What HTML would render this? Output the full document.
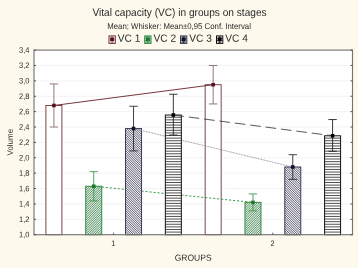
<!DOCTYPE html>
<html><head><meta charset="utf-8"><title>Vital capacity (VC) in groups on stages</title>
<style>
html,body{margin:0;padding:0;background:#fdf9ec;}
body{width:358px;height:268px;overflow:hidden;font-family:"Liberation Sans",sans-serif;}
svg{display:block}
text{font-family:"Liberation Sans",sans-serif;fill:#2a2a2a;text-rendering:geometricPrecision}
</style></head><body>
<svg width="358" height="268" viewBox="0 0 358 268">
<rect x="0" y="0" width="358" height="268" fill="#fdf9ec"/>

<rect x="34.0" y="50.1" width="318.5" height="184.6" fill="#ffffff"/>
<line x1="34.0" y1="219.32" x2="352.5" y2="219.32" stroke="#e9e9ed" stroke-width="0.8" stroke-dasharray="1.3 0.7"/>
<line x1="34.0" y1="203.93" x2="352.5" y2="203.93" stroke="#e9e9ed" stroke-width="0.8" stroke-dasharray="1.3 0.7"/>
<line x1="34.0" y1="188.55" x2="352.5" y2="188.55" stroke="#e9e9ed" stroke-width="0.8" stroke-dasharray="1.3 0.7"/>
<line x1="34.0" y1="173.17" x2="352.5" y2="173.17" stroke="#e9e9ed" stroke-width="0.8" stroke-dasharray="1.3 0.7"/>
<line x1="34.0" y1="157.78" x2="352.5" y2="157.78" stroke="#e9e9ed" stroke-width="0.8" stroke-dasharray="1.3 0.7"/>
<line x1="34.0" y1="142.40" x2="352.5" y2="142.40" stroke="#e9e9ed" stroke-width="0.8" stroke-dasharray="1.3 0.7"/>
<line x1="34.0" y1="127.02" x2="352.5" y2="127.02" stroke="#e9e9ed" stroke-width="0.8" stroke-dasharray="1.3 0.7"/>
<line x1="34.0" y1="111.63" x2="352.5" y2="111.63" stroke="#e9e9ed" stroke-width="0.8" stroke-dasharray="1.3 0.7"/>
<line x1="34.0" y1="96.25" x2="352.5" y2="96.25" stroke="#e9e9ed" stroke-width="0.8" stroke-dasharray="1.3 0.7"/>
<line x1="34.0" y1="80.87" x2="352.5" y2="80.87" stroke="#e9e9ed" stroke-width="0.8" stroke-dasharray="1.3 0.7"/>
<line x1="34.0" y1="65.48" x2="352.5" y2="65.48" stroke="#e9e9ed" stroke-width="0.8" stroke-dasharray="1.3 0.7"/>
<rect x="45.91" y="105.48" width="16.0" height="129.22" fill="#ffffff"/>
<rect x="45.91" y="105.48" width="16.0" height="129.22" fill="none" stroke="#702e36" stroke-width="0.9"/>
<rect x="205.16" y="84.71" width="16.0" height="149.99" fill="#ffffff"/>
<rect x="205.16" y="84.71" width="16.0" height="149.99" fill="none" stroke="#702e36" stroke-width="0.9"/>
<line x1="53.91" y1="105.48" x2="213.16" y2="84.71" stroke="#783840" stroke-width="1"/>
<path d="M53.91 127.02V83.94M49.71 127.02h8.4M49.71 83.94h8.4" stroke="#85686b" stroke-width="0.9" fill="none"/>
<rect x="52.11" y="103.68" width="3.6" height="3.6" fill="#5c0f22"/>
<path d="M213.16 103.94V65.48M208.96 103.94h8.4M208.96 65.48h8.4" stroke="#85686b" stroke-width="0.9" fill="none"/>
<rect x="211.36" y="82.91" width="3.6" height="3.6" fill="#5c0f22"/>
<rect x="85.72" y="186.24" width="16.0" height="48.46" fill="#dff0e0"/>
<clipPath id="c1"><rect x="85.72" y="186.24" width="16.0" height="48.46"/></clipPath>
<path clip-path="url(#c1)" d="M36.80 234.70l48.46 -48.46M39.10 234.70l48.46 -48.46M41.40 234.70l48.46 -48.46M43.70 234.70l48.46 -48.46M46.00 234.70l48.46 -48.46M48.30 234.70l48.46 -48.46M50.60 234.70l48.46 -48.46M52.90 234.70l48.46 -48.46M55.20 234.70l48.46 -48.46M57.50 234.70l48.46 -48.46M59.80 234.70l48.46 -48.46M62.10 234.70l48.46 -48.46M64.40 234.70l48.46 -48.46M66.70 234.70l48.46 -48.46M69.00 234.70l48.46 -48.46M71.30 234.70l48.46 -48.46M73.60 234.70l48.46 -48.46M75.90 234.70l48.46 -48.46M78.20 234.70l48.46 -48.46M80.50 234.70l48.46 -48.46M82.80 234.70l48.46 -48.46M85.10 234.70l48.46 -48.46M87.40 234.70l48.46 -48.46M89.70 234.70l48.46 -48.46M92.00 234.70l48.46 -48.46M94.30 234.70l48.46 -48.46M96.60 234.70l48.46 -48.46M98.90 234.70l48.46 -48.46M101.20 234.70l48.46 -48.46M103.50 234.70l48.46 -48.46M105.80 234.70l48.46 -48.46M108.10 234.70l48.46 -48.46M110.40 234.70l48.46 -48.46M112.70 234.70l48.46 -48.46M115.00 234.70l48.46 -48.46M117.30 234.70l48.46 -48.46M119.60 234.70l48.46 -48.46M121.90 234.70l48.46 -48.46M124.20 234.70l48.46 -48.46M126.50 234.70l48.46 -48.46M128.80 234.70l48.46 -48.46M131.10 234.70l48.46 -48.46M133.40 234.70l48.46 -48.46M135.70 234.70l48.46 -48.46M138.00 234.70l48.46 -48.46M140.30 234.70l48.46 -48.46M142.60 234.70l48.46 -48.46M144.90 234.70l48.46 -48.46M147.20 234.70l48.46 -48.46M149.50 234.70l48.46 -48.46" stroke="#61926f" stroke-width="1.0" fill="none"/>
<rect x="85.72" y="186.24" width="16.0" height="48.46" fill="none" stroke="#2e8b3e" stroke-width="1"/>
<rect x="244.97" y="202.39" width="16.0" height="32.31" fill="#dff0e0"/>
<clipPath id="c2"><rect x="244.97" y="202.39" width="16.0" height="32.31"/></clipPath>
<path clip-path="url(#c2)" d="M211.60 234.70l32.31 -32.31M213.90 234.70l32.31 -32.31M216.20 234.70l32.31 -32.31M218.50 234.70l32.31 -32.31M220.80 234.70l32.31 -32.31M223.10 234.70l32.31 -32.31M225.40 234.70l32.31 -32.31M227.70 234.70l32.31 -32.31M230.00 234.70l32.31 -32.31M232.30 234.70l32.31 -32.31M234.60 234.70l32.31 -32.31M236.90 234.70l32.31 -32.31M239.20 234.70l32.31 -32.31M241.50 234.70l32.31 -32.31M243.80 234.70l32.31 -32.31M246.10 234.70l32.31 -32.31M248.40 234.70l32.31 -32.31M250.70 234.70l32.31 -32.31M253.00 234.70l32.31 -32.31M255.30 234.70l32.31 -32.31M257.60 234.70l32.31 -32.31M259.90 234.70l32.31 -32.31M262.20 234.70l32.31 -32.31M264.50 234.70l32.31 -32.31M266.80 234.70l32.31 -32.31M269.10 234.70l32.31 -32.31M271.40 234.70l32.31 -32.31M273.70 234.70l32.31 -32.31M276.00 234.70l32.31 -32.31M278.30 234.70l32.31 -32.31M280.60 234.70l32.31 -32.31M282.90 234.70l32.31 -32.31M285.20 234.70l32.31 -32.31M287.50 234.70l32.31 -32.31M289.80 234.70l32.31 -32.31M292.10 234.70l32.31 -32.31" stroke="#61926f" stroke-width="1.0" fill="none"/>
<rect x="244.97" y="202.39" width="16.0" height="32.31" fill="none" stroke="#2e8b3e" stroke-width="1"/>
<line x1="93.72" y1="186.24" x2="252.97" y2="202.39" stroke="#3f9a4e" stroke-width="1" stroke-dasharray="2.2 1.8"/>
<path d="M93.72 200.86V171.63M89.52 200.86h8.4M89.52 171.63h8.4" stroke="#3f9a4e" stroke-width="0.9" fill="none"/>
<rect x="91.92" y="184.44" width="3.6" height="3.6" fill="#1f7a30"/>
<path d="M252.97 210.86V193.93M248.77 210.86h8.4M248.77 193.93h8.4" stroke="#3f9a4e" stroke-width="0.9" fill="none"/>
<rect x="251.17" y="200.59" width="3.6" height="3.6" fill="#1f7a30"/>
<rect x="125.53" y="128.56" width="16.0" height="106.14" fill="#f3f1f8"/>
<clipPath id="c3"><rect x="125.53" y="128.56" width="16.0" height="106.14"/></clipPath>
<path clip-path="url(#c3)" d="M18.40 128.56l106.14 106.14M20.70 128.56l106.14 106.14M23.00 128.56l106.14 106.14M25.30 128.56l106.14 106.14M27.60 128.56l106.14 106.14M29.90 128.56l106.14 106.14M32.20 128.56l106.14 106.14M34.50 128.56l106.14 106.14M36.80 128.56l106.14 106.14M39.10 128.56l106.14 106.14M41.40 128.56l106.14 106.14M43.70 128.56l106.14 106.14M46.00 128.56l106.14 106.14M48.30 128.56l106.14 106.14M50.60 128.56l106.14 106.14M52.90 128.56l106.14 106.14M55.20 128.56l106.14 106.14M57.50 128.56l106.14 106.14M59.80 128.56l106.14 106.14M62.10 128.56l106.14 106.14M64.40 128.56l106.14 106.14M66.70 128.56l106.14 106.14M69.00 128.56l106.14 106.14M71.30 128.56l106.14 106.14M73.60 128.56l106.14 106.14M75.90 128.56l106.14 106.14M78.20 128.56l106.14 106.14M80.50 128.56l106.14 106.14M82.80 128.56l106.14 106.14M85.10 128.56l106.14 106.14M87.40 128.56l106.14 106.14M89.70 128.56l106.14 106.14M92.00 128.56l106.14 106.14M94.30 128.56l106.14 106.14M96.60 128.56l106.14 106.14M98.90 128.56l106.14 106.14M101.20 128.56l106.14 106.14M103.50 128.56l106.14 106.14M105.80 128.56l106.14 106.14M108.10 128.56l106.14 106.14M110.40 128.56l106.14 106.14M112.70 128.56l106.14 106.14M115.00 128.56l106.14 106.14M117.30 128.56l106.14 106.14M119.60 128.56l106.14 106.14M121.90 128.56l106.14 106.14M124.20 128.56l106.14 106.14M126.50 128.56l106.14 106.14M128.80 128.56l106.14 106.14M131.10 128.56l106.14 106.14M133.40 128.56l106.14 106.14M135.70 128.56l106.14 106.14M138.00 128.56l106.14 106.14M140.30 128.56l106.14 106.14M142.60 128.56l106.14 106.14M144.90 128.56l106.14 106.14M147.20 128.56l106.14 106.14M149.50 128.56l106.14 106.14M151.80 128.56l106.14 106.14M154.10 128.56l106.14 106.14M156.40 128.56l106.14 106.14M158.70 128.56l106.14 106.14M161.00 128.56l106.14 106.14M163.30 128.56l106.14 106.14M165.60 128.56l106.14 106.14M167.90 128.56l106.14 106.14M170.20 128.56l106.14 106.14M172.50 128.56l106.14 106.14M174.80 128.56l106.14 106.14M177.10 128.56l106.14 106.14M179.40 128.56l106.14 106.14M181.70 128.56l106.14 106.14M184.00 128.56l106.14 106.14M186.30 128.56l106.14 106.14M188.60 128.56l106.14 106.14M190.90 128.56l106.14 106.14M193.20 128.56l106.14 106.14M195.50 128.56l106.14 106.14M197.80 128.56l106.14 106.14M200.10 128.56l106.14 106.14M202.40 128.56l106.14 106.14M204.70 128.56l106.14 106.14M207.00 128.56l106.14 106.14M209.30 128.56l106.14 106.14M211.60 128.56l106.14 106.14M213.90 128.56l106.14 106.14M216.20 128.56l106.14 106.14M218.50 128.56l106.14 106.14M220.80 128.56l106.14 106.14M223.10 128.56l106.14 106.14M225.40 128.56l106.14 106.14M227.70 128.56l106.14 106.14M230.00 128.56l106.14 106.14M232.30 128.56l106.14 106.14M234.60 128.56l106.14 106.14M236.90 128.56l106.14 106.14M239.20 128.56l106.14 106.14M241.50 128.56l106.14 106.14M243.80 128.56l106.14 106.14M246.10 128.56l106.14 106.14" stroke="#62646e" stroke-width="1.0" fill="none"/>
<rect x="125.53" y="128.56" width="16.0" height="106.14" fill="none" stroke="#3a3a58" stroke-width="1"/>
<rect x="284.78" y="167.01" width="16.0" height="67.69" fill="#f3f1f8"/>
<clipPath id="c4"><rect x="284.78" y="167.01" width="16.0" height="67.69"/></clipPath>
<path clip-path="url(#c4)" d="M216.20 167.01l67.69 67.69M218.50 167.01l67.69 67.69M220.80 167.01l67.69 67.69M223.10 167.01l67.69 67.69M225.40 167.01l67.69 67.69M227.70 167.01l67.69 67.69M230.00 167.01l67.69 67.69M232.30 167.01l67.69 67.69M234.60 167.01l67.69 67.69M236.90 167.01l67.69 67.69M239.20 167.01l67.69 67.69M241.50 167.01l67.69 67.69M243.80 167.01l67.69 67.69M246.10 167.01l67.69 67.69M248.40 167.01l67.69 67.69M250.70 167.01l67.69 67.69M253.00 167.01l67.69 67.69M255.30 167.01l67.69 67.69M257.60 167.01l67.69 67.69M259.90 167.01l67.69 67.69M262.20 167.01l67.69 67.69M264.50 167.01l67.69 67.69M266.80 167.01l67.69 67.69M269.10 167.01l67.69 67.69M271.40 167.01l67.69 67.69M273.70 167.01l67.69 67.69M276.00 167.01l67.69 67.69M278.30 167.01l67.69 67.69M280.60 167.01l67.69 67.69M282.90 167.01l67.69 67.69M285.20 167.01l67.69 67.69M287.50 167.01l67.69 67.69M289.80 167.01l67.69 67.69M292.10 167.01l67.69 67.69M294.40 167.01l67.69 67.69M296.70 167.01l67.69 67.69M299.00 167.01l67.69 67.69M301.30 167.01l67.69 67.69M303.60 167.01l67.69 67.69M305.90 167.01l67.69 67.69M308.20 167.01l67.69 67.69M310.50 167.01l67.69 67.69M312.80 167.01l67.69 67.69M315.10 167.01l67.69 67.69M317.40 167.01l67.69 67.69M319.70 167.01l67.69 67.69M322.00 167.01l67.69 67.69M324.30 167.01l67.69 67.69M326.60 167.01l67.69 67.69M328.90 167.01l67.69 67.69M331.20 167.01l67.69 67.69M333.50 167.01l67.69 67.69M335.80 167.01l67.69 67.69M338.10 167.01l67.69 67.69M340.40 167.01l67.69 67.69M342.70 167.01l67.69 67.69M345.00 167.01l67.69 67.69M347.30 167.01l67.69 67.69M349.60 167.01l67.69 67.69M351.90 167.01l67.69 67.69M354.20 167.01l67.69 67.69M356.50 167.01l67.69 67.69M358.80 167.01l67.69 67.69M361.10 167.01l67.69 67.69M363.40 167.01l67.69 67.69M365.70 167.01l67.69 67.69M368.00 167.01l67.69 67.69" stroke="#62646e" stroke-width="1.0" fill="none"/>
<rect x="284.78" y="167.01" width="16.0" height="67.69" fill="none" stroke="#3a3a58" stroke-width="1"/>
<line x1="133.53" y1="128.56" x2="292.78" y2="167.01" stroke="#858592" stroke-width="0.9" stroke-dasharray="0.9 0.7"/>
<path d="M133.53 150.86V106.25M129.33 150.86h8.4M129.33 106.25h8.4" stroke="#2a2a38" stroke-width="0.9" fill="none"/>
<rect x="131.73" y="126.76" width="3.6" height="3.6" fill="#101028"/>
<path d="M292.78 179.32V154.71M288.58 179.32h8.4M288.58 154.71h8.4" stroke="#2a2a38" stroke-width="0.9" fill="none"/>
<rect x="290.98" y="165.21" width="3.6" height="3.6" fill="#101028"/>
<rect x="165.34" y="115.02" width="16.0" height="119.68" fill="#ffffff"/>
<clipPath id="c5"><rect x="165.34" y="115.02" width="16.0" height="119.68"/></clipPath>
<path clip-path="url(#c5)" d="M165.34 117.25h16.0M165.34 119.86h16.0M165.34 122.47h16.0M165.34 125.08h16.0M165.34 127.69h16.0M165.34 130.30h16.0M165.34 132.91h16.0M165.34 135.52h16.0M165.34 138.13h16.0M165.34 140.74h16.0M165.34 143.35h16.0M165.34 145.96h16.0M165.34 148.57h16.0M165.34 151.18h16.0M165.34 153.79h16.0M165.34 156.40h16.0M165.34 159.01h16.0M165.34 161.62h16.0M165.34 164.23h16.0M165.34 166.84h16.0M165.34 169.45h16.0M165.34 172.06h16.0M165.34 174.67h16.0M165.34 177.28h16.0M165.34 179.89h16.0M165.34 182.50h16.0M165.34 185.11h16.0M165.34 187.72h16.0M165.34 190.33h16.0M165.34 192.94h16.0M165.34 195.55h16.0M165.34 198.16h16.0M165.34 200.77h16.0M165.34 203.38h16.0M165.34 205.99h16.0M165.34 208.60h16.0M165.34 211.21h16.0M165.34 213.82h16.0M165.34 216.43h16.0M165.34 219.04h16.0M165.34 221.65h16.0M165.34 224.26h16.0M165.34 226.87h16.0M165.34 229.48h16.0M165.34 232.09h16.0" stroke="#484848" stroke-width="0.95" fill="none"/>
<rect x="165.34" y="115.02" width="16.0" height="119.68" fill="none" stroke="#111111" stroke-width="1"/>
<rect x="324.59" y="135.79" width="16.0" height="98.91" fill="#ffffff"/>
<clipPath id="c6"><rect x="324.59" y="135.79" width="16.0" height="98.91"/></clipPath>
<path clip-path="url(#c6)" d="M324.59 138.13h16.0M324.59 140.74h16.0M324.59 143.35h16.0M324.59 145.96h16.0M324.59 148.57h16.0M324.59 151.18h16.0M324.59 153.79h16.0M324.59 156.40h16.0M324.59 159.01h16.0M324.59 161.62h16.0M324.59 164.23h16.0M324.59 166.84h16.0M324.59 169.45h16.0M324.59 172.06h16.0M324.59 174.67h16.0M324.59 177.28h16.0M324.59 179.89h16.0M324.59 182.50h16.0M324.59 185.11h16.0M324.59 187.72h16.0M324.59 190.33h16.0M324.59 192.94h16.0M324.59 195.55h16.0M324.59 198.16h16.0M324.59 200.77h16.0M324.59 203.38h16.0M324.59 205.99h16.0M324.59 208.60h16.0M324.59 211.21h16.0M324.59 213.82h16.0M324.59 216.43h16.0M324.59 219.04h16.0M324.59 221.65h16.0M324.59 224.26h16.0M324.59 226.87h16.0M324.59 229.48h16.0M324.59 232.09h16.0" stroke="#484848" stroke-width="0.95" fill="none"/>
<rect x="324.59" y="135.79" width="16.0" height="98.91" fill="none" stroke="#111111" stroke-width="1"/>
<line x1="173.34" y1="115.02" x2="332.59" y2="135.79" stroke="#444444" stroke-width="0.9" stroke-dasharray="10.6 4.9"/>
<path d="M173.34 135.02V94.25M169.14 135.02h8.4M169.14 94.25h8.4" stroke="#222222" stroke-width="0.9" fill="none"/>
<rect x="171.54" y="113.22" width="3.6" height="3.6" fill="#000000"/>
<path d="M332.59 151.25V119.56M328.39 151.25h8.4M328.39 119.56h8.4" stroke="#222222" stroke-width="0.9" fill="none"/>
<rect x="330.79" y="133.99" width="3.6" height="3.6" fill="#000000"/>
<rect x="34.0" y="50.1" width="318.5" height="184.6" fill="none" stroke="#757575" stroke-width="1.15"/>
<line x1="34.0" y1="234.70" x2="36.0" y2="234.70" stroke="#444" stroke-width="0.9"/>
<line x1="350.5" y1="234.70" x2="352.5" y2="234.70" stroke="#444" stroke-width="0.9"/>
<text x="29.5" y="237.35" font-size="8" text-anchor="end" textLength="10.4" lengthAdjust="spacingAndGlyphs" transform="rotate(0.03 29.5 234.7)">1,0</text>
<line x1="34.0" y1="219.32" x2="36.0" y2="219.32" stroke="#444" stroke-width="0.9"/>
<line x1="350.5" y1="219.32" x2="352.5" y2="219.32" stroke="#444" stroke-width="0.9"/>
<text x="29.5" y="221.97" font-size="8" text-anchor="end" textLength="10.4" lengthAdjust="spacingAndGlyphs" transform="rotate(0.03 29.5 219.3)">1,2</text>
<line x1="34.0" y1="203.93" x2="36.0" y2="203.93" stroke="#444" stroke-width="0.9"/>
<line x1="350.5" y1="203.93" x2="352.5" y2="203.93" stroke="#444" stroke-width="0.9"/>
<text x="29.5" y="206.58" font-size="8" text-anchor="end" textLength="10.4" lengthAdjust="spacingAndGlyphs" transform="rotate(0.03 29.5 203.9)">1,4</text>
<line x1="34.0" y1="188.55" x2="36.0" y2="188.55" stroke="#444" stroke-width="0.9"/>
<line x1="350.5" y1="188.55" x2="352.5" y2="188.55" stroke="#444" stroke-width="0.9"/>
<text x="29.5" y="191.20" font-size="8" text-anchor="end" textLength="10.4" lengthAdjust="spacingAndGlyphs" transform="rotate(0.03 29.5 188.5)">1,6</text>
<line x1="34.0" y1="173.17" x2="36.0" y2="173.17" stroke="#444" stroke-width="0.9"/>
<line x1="350.5" y1="173.17" x2="352.5" y2="173.17" stroke="#444" stroke-width="0.9"/>
<text x="29.5" y="175.82" font-size="8" text-anchor="end" textLength="10.4" lengthAdjust="spacingAndGlyphs" transform="rotate(0.03 29.5 173.2)">1,8</text>
<line x1="34.0" y1="157.78" x2="36.0" y2="157.78" stroke="#444" stroke-width="0.9"/>
<line x1="350.5" y1="157.78" x2="352.5" y2="157.78" stroke="#444" stroke-width="0.9"/>
<text x="29.5" y="160.43" font-size="8" text-anchor="end" textLength="10.4" lengthAdjust="spacingAndGlyphs" transform="rotate(0.03 29.5 157.8)">2,0</text>
<line x1="34.0" y1="142.40" x2="36.0" y2="142.40" stroke="#444" stroke-width="0.9"/>
<line x1="350.5" y1="142.40" x2="352.5" y2="142.40" stroke="#444" stroke-width="0.9"/>
<text x="29.5" y="145.05" font-size="8" text-anchor="end" textLength="10.4" lengthAdjust="spacingAndGlyphs" transform="rotate(0.03 29.5 142.4)">2,2</text>
<line x1="34.0" y1="127.02" x2="36.0" y2="127.02" stroke="#444" stroke-width="0.9"/>
<line x1="350.5" y1="127.02" x2="352.5" y2="127.02" stroke="#444" stroke-width="0.9"/>
<text x="29.5" y="129.67" font-size="8" text-anchor="end" textLength="10.4" lengthAdjust="spacingAndGlyphs" transform="rotate(0.03 29.5 127.0)">2,4</text>
<line x1="34.0" y1="111.63" x2="36.0" y2="111.63" stroke="#444" stroke-width="0.9"/>
<line x1="350.5" y1="111.63" x2="352.5" y2="111.63" stroke="#444" stroke-width="0.9"/>
<text x="29.5" y="114.28" font-size="8" text-anchor="end" textLength="10.4" lengthAdjust="spacingAndGlyphs" transform="rotate(0.03 29.5 111.6)">2,6</text>
<line x1="34.0" y1="96.25" x2="36.0" y2="96.25" stroke="#444" stroke-width="0.9"/>
<line x1="350.5" y1="96.25" x2="352.5" y2="96.25" stroke="#444" stroke-width="0.9"/>
<text x="29.5" y="98.90" font-size="8" text-anchor="end" textLength="10.4" lengthAdjust="spacingAndGlyphs" transform="rotate(0.03 29.5 96.2)">2,8</text>
<line x1="34.0" y1="80.87" x2="36.0" y2="80.87" stroke="#444" stroke-width="0.9"/>
<line x1="350.5" y1="80.87" x2="352.5" y2="80.87" stroke="#444" stroke-width="0.9"/>
<text x="29.5" y="83.52" font-size="8" text-anchor="end" textLength="10.4" lengthAdjust="spacingAndGlyphs" transform="rotate(0.03 29.5 80.9)">3,0</text>
<line x1="34.0" y1="65.48" x2="36.0" y2="65.48" stroke="#444" stroke-width="0.9"/>
<line x1="350.5" y1="65.48" x2="352.5" y2="65.48" stroke="#444" stroke-width="0.9"/>
<text x="29.5" y="68.13" font-size="8" text-anchor="end" textLength="10.4" lengthAdjust="spacingAndGlyphs" transform="rotate(0.03 29.5 65.5)">3,2</text>
<line x1="34.0" y1="50.10" x2="36.0" y2="50.10" stroke="#444" stroke-width="0.9"/>
<line x1="350.5" y1="50.10" x2="352.5" y2="50.10" stroke="#444" stroke-width="0.9"/>
<text x="29.5" y="52.75" font-size="8" text-anchor="end" textLength="10.4" lengthAdjust="spacingAndGlyphs" transform="rotate(0.03 29.5 50.1)">3,4</text>
<line x1="113.62" y1="232.7" x2="113.62" y2="234.7" stroke="#444" stroke-width="0.9"/>
<text x="113.33" y="245.8" font-size="8" text-anchor="middle" textLength="4.1" lengthAdjust="spacingAndGlyphs" transform="rotate(0.03 113.6 245)">1</text>
<line x1="272.88" y1="232.7" x2="272.88" y2="234.7" stroke="#444" stroke-width="0.9"/>
<text x="272.57" y="245.8" font-size="8" text-anchor="middle" textLength="4.1" lengthAdjust="spacingAndGlyphs" transform="rotate(0.03 272.9 245)">2</text>
<text x="193.15" y="260.8" font-size="8.9" text-anchor="middle" textLength="36.9" lengthAdjust="spacingAndGlyphs" transform="rotate(0.03 193 260)">GROUPS</text>
<text transform="translate(12.7,142.2) rotate(-90.03)" font-size="7.95" text-anchor="middle">Volume</text>
<text x="179.5" y="15.8" font-size="10.9" fill="#1c1c1c" text-anchor="middle" textLength="174.2" lengthAdjust="spacingAndGlyphs" transform="rotate(0.02 179 15)">Vital capacity (VC) in groups on stages</text>
<text x="179.1" y="28.8" font-size="8.3" text-anchor="middle" textLength="143.6" lengthAdjust="spacingAndGlyphs" transform="rotate(0.02 179 28)">Mean; Whisker: Mean±0,95 Conf. Interval</text>
<rect x="109.00" y="35.90" width="6.3" height="7.50" fill="#ffffff"/>
<rect x="109.00" y="35.90" width="6.3" height="7.50" fill="none" stroke="#702e36" stroke-width="1"/>
<path d="M112.15 36.6v6M110.7 36.9h2.9M110.7 42.4h2.9" stroke="#85686b" stroke-width="0.8" fill="none"/>
<rect x="110.1" y="37.5" width="4.1" height="3.7" rx="0.5" fill="#5c0f22"/>
<text x="117.8" y="41.7" font-size="10.5" textLength="22.6" lengthAdjust="spacingAndGlyphs" transform="rotate(0.03 117.5 41)">VC 1</text>
<rect x="144.70" y="35.90" width="6.3" height="7.50" fill="#dff0e0"/>
<clipPath id="c7"><rect x="144.70" y="35.90" width="6.3" height="7.50"/></clipPath>
<path clip-path="url(#c7)" d="M135.70 43.40l7.50 -7.50M138.00 43.40l7.50 -7.50M140.30 43.40l7.50 -7.50M142.60 43.40l7.50 -7.50M144.90 43.40l7.50 -7.50M147.20 43.40l7.50 -7.50M149.50 43.40l7.50 -7.50M151.80 43.40l7.50 -7.50M154.10 43.40l7.50 -7.50M156.40 43.40l7.50 -7.50" stroke="#61926f" stroke-width="1.0" fill="none"/>
<rect x="144.70" y="35.90" width="6.3" height="7.50" fill="none" stroke="#2e8b3e" stroke-width="1"/>
<path d="M147.85 36.6v6M146.39999999999998 36.9h2.9M146.39999999999998 42.4h2.9" stroke="#3f9a4e" stroke-width="0.8" fill="none"/>
<rect x="145.79999999999998" y="37.5" width="4.1" height="3.7" rx="0.5" fill="#1f7a30"/>
<text x="153.5" y="41.7" font-size="10.5" textLength="22.6" lengthAdjust="spacingAndGlyphs" transform="rotate(0.03 153.2 41)">VC 2</text>
<rect x="180.50" y="35.90" width="6.3" height="7.50" fill="#f3f1f8"/>
<clipPath id="c8"><rect x="180.50" y="35.90" width="6.3" height="7.50"/></clipPath>
<path clip-path="url(#c8)" d="M172.50 35.90l7.50 7.50M174.80 35.90l7.50 7.50M177.10 35.90l7.50 7.50M179.40 35.90l7.50 7.50M181.70 35.90l7.50 7.50M184.00 35.90l7.50 7.50M186.30 35.90l7.50 7.50M188.60 35.90l7.50 7.50M190.90 35.90l7.50 7.50M193.20 35.90l7.50 7.50" stroke="#62646e" stroke-width="1.0" fill="none"/>
<rect x="180.50" y="35.90" width="6.3" height="7.50" fill="none" stroke="#3a3a58" stroke-width="1"/>
<path d="M183.65 36.6v6M182.2 36.9h2.9M182.2 42.4h2.9" stroke="#2a2a38" stroke-width="0.8" fill="none"/>
<rect x="181.6" y="37.5" width="4.1" height="3.7" rx="0.5" fill="#101028"/>
<text x="189.3" y="41.7" font-size="10.5" textLength="22.6" lengthAdjust="spacingAndGlyphs" transform="rotate(0.03 189.0 41)">VC 3</text>
<rect x="216.50" y="35.90" width="6.3" height="7.50" fill="#ffffff"/>
<clipPath id="c9"><rect x="216.50" y="35.90" width="6.3" height="7.50"/></clipPath>
<path clip-path="url(#c9)" d="M216.50 38.18h6.3M216.50 40.79h6.3" stroke="#484848" stroke-width="0.95" fill="none"/>
<rect x="216.50" y="35.90" width="6.3" height="7.50" fill="none" stroke="#111111" stroke-width="1"/>
<path d="M219.65 36.6v6M218.2 36.9h2.9M218.2 42.4h2.9" stroke="#222222" stroke-width="0.8" fill="none"/>
<rect x="217.6" y="37.5" width="4.1" height="3.7" rx="0.5" fill="#000000"/>
<text x="225.3" y="41.7" font-size="10.5" textLength="22.6" lengthAdjust="spacingAndGlyphs" transform="rotate(0.03 225.0 41)">VC 4</text>
</svg></body></html>
